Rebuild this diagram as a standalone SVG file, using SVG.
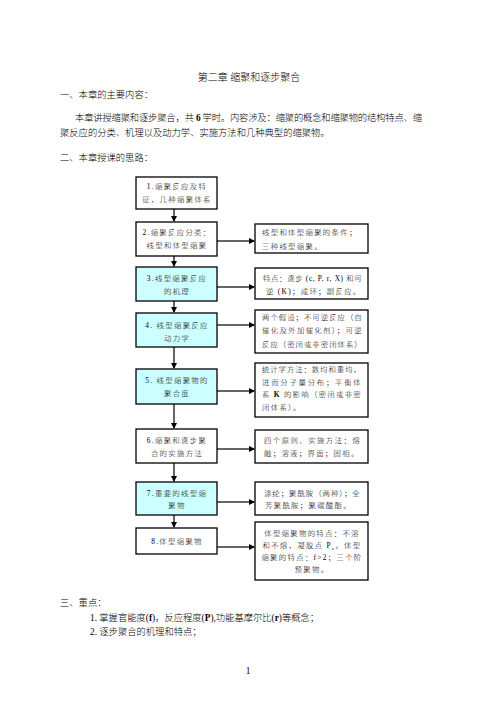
<svg xmlns="http://www.w3.org/2000/svg" width="496" height="702" viewBox="0 0 496 702">
<defs>
<style>
text{font-family:"Liberation Serif","Noto Sans CJK SC",serif;fill:#000;font-weight:300}
.t{font-size:10px}
.b{font-size:9.3px}
.n{font-size:7.4px;letter-spacing:1.3px}
.c{text-anchor:middle}
.box{fill:#fff;stroke:#000;stroke-width:1.3}
.cy{fill:#ccffff;stroke:#000;stroke-width:1.3}
.ln{stroke:#333;stroke-width:1.5;fill:none}
</style>
<marker id="ah" markerWidth="6" markerHeight="6" refX="5" refY="3" orient="auto" markerUnits="userSpaceOnUse">
<path d="M0,0 L6,3 L0,6 Z" fill="#000"/>
</marker>
</defs>
<rect width="496" height="702" fill="#fff"/>

<text class="t c" x="249" y="81">第二章  缩聚和逐步聚合</text>
<text class="b" x="60" y="98">一、本章的主要内容：</text>
<text class="b" x="75" y="121" textLength="347" lengthAdjust="spacing">本章讲授缩聚和逐步聚合，共 <tspan font-weight="bold">6</tspan> 学时。内容涉及：缩聚的概念和缩聚物的结构特点、缩</text>
<text class="b" x="60" y="136">聚反应的分类、机理以及动力学、实施方法和几种典型的缩聚物。</text>
<text class="b" x="60" y="161">二、本章授课的思路：</text>

<g id="connectors">
<line class="ln" x1="174" y1="209" x2="174" y2="221" marker-end="url(#ah)"/>
<line class="ln" x1="174" y1="256" x2="174" y2="266" marker-end="url(#ah)"/>
<line class="ln" x1="174" y1="301" x2="174" y2="312" marker-end="url(#ah)"/>
<line class="ln" x1="174" y1="347" x2="174" y2="368" marker-end="url(#ah)"/>
<line class="ln" x1="174" y1="404" x2="174" y2="428" marker-end="url(#ah)"/>
<line class="ln" x1="174" y1="463" x2="174" y2="481" marker-end="url(#ah)"/>
<line class="ln" x1="174" y1="515" x2="174" y2="527" marker-end="url(#ah)"/>
<line class="ln" x1="217" y1="241" x2="254" y2="241" marker-end="url(#ah)"/>
<line class="ln" x1="217" y1="287" x2="254" y2="287" marker-end="url(#ah)"/>
<line class="ln" x1="217" y1="325" x2="254" y2="325" marker-end="url(#ah)"/>
<line class="ln" x1="217" y1="391" x2="254" y2="391" marker-end="url(#ah)"/>
<line class="ln" x1="217" y1="449" x2="254" y2="449" marker-end="url(#ah)"/>
<line class="ln" x1="217" y1="502" x2="254" y2="502" marker-end="url(#ah)"/>
<line class="ln" x1="217" y1="547" x2="254" y2="547" marker-end="url(#ah)"/>
</g>

<g id="n1">
<rect class="box" x="136" y="177" width="81" height="32"/>
<text class="n c" x="177" y="189">1.缩聚反应及特</text>
<text class="n c" x="177" y="202">征，几种缩聚体系</text>
</g>
<g id="n2">
<rect class="box" x="136" y="222" width="81" height="34"/>
<text class="n c" x="177" y="235">2.缩聚反应分类：</text>
<text class="n c" x="177" y="248">线型和体型缩聚</text>
</g>
<g id="n3">
<rect class="cy" x="136" y="267" width="81" height="34"/>
<text class="n c" x="177" y="281">3.线型缩聚反应</text>
<text class="n c" x="177" y="294">的机理</text>
</g>
<g id="n4">
<rect class="cy" x="136" y="313" width="81" height="34"/>
<text class="n c" x="177" y="328">4.  线型缩聚反应</text>
<text class="n c" x="177" y="341">动力学</text>
</g>
<g id="n5">
<rect class="cy" x="136" y="369" width="81" height="35"/>
<text class="n c" x="177" y="383">5.  线型缩聚物的</text>
<text class="n c" x="177" y="396">聚合度</text>
</g>
<g id="n6">
<rect class="box" x="136" y="429" width="81" height="34"/>
<text class="n c" x="177" y="443">6.缩聚和逐步聚</text>
<text class="n c" x="177" y="456">合的实施方法</text>
</g>
<g id="n7">
<rect class="cy" x="136" y="482" width="81" height="33"/>
<text class="n c" x="177" y="496">7.重要的线型缩</text>
<text class="n c" x="177" y="508">聚物</text>
</g>
<g id="n8">
<rect class="box" x="136" y="528" width="81" height="26"/>
<text class="n c" x="177" y="544">8.体型缩聚物</text>
</g>

<g id="r2">
<rect class="box" x="255" y="224" width="113" height="29"/>
<text class="n" x="262" y="235">线型和体型缩聚的条件；</text>
<text class="n" x="262" y="249">三种线型缩聚。</text>
</g>
<g id="r3">
<rect class="box" x="255" y="268" width="113" height="31"/>
<text class="n" x="263" y="281" textLength="100" lengthAdjust="spacing">特点：逐步 (c, P, r, X) 和可</text>
<text class="n" x="266" y="294">逆 (K)；成环；副反应。</text>
</g>
<g id="r4">
<rect class="box" x="255" y="310" width="113" height="43"/>
<text class="n" x="262" y="320" textLength="101" lengthAdjust="spacing">两个假设；不可逆反应（自</text>
<text class="n" x="262" y="333" textLength="101" lengthAdjust="spacing">催化及外加催化剂）；可逆</text>
<text class="n" x="262" y="347" textLength="101" lengthAdjust="spacing">反应（密闭或非密闭体系）</text>
</g>
<g id="r5">
<rect class="box" x="255" y="363" width="113" height="54"/>
<text class="n" x="262" y="372" textLength="100" lengthAdjust="spacing">统计学方法：数均和重均，</text>
<text class="n" x="262" y="385" textLength="100" lengthAdjust="spacing">进而分子量分布；平衡体</text>
<text class="n" x="262" y="397" textLength="100" lengthAdjust="spacing">系 <tspan font-weight="bold">K</tspan> 的影响（密闭或非密</text>
<text class="n" x="262" y="410">闭体系）。</text>
</g>
<g id="r6">
<rect class="box" x="255" y="430" width="113" height="33"/>
<text class="n" x="264" y="443" textLength="97" lengthAdjust="spacing">四个原则、实施方法：熔</text>
<text class="n" x="264" y="456">融；溶液；界面；固相。</text>
</g>
<g id="r7">
<rect class="box" x="255" y="482" width="113" height="33"/>
<text class="n" x="264" y="496" textLength="97" lengthAdjust="spacing">涤纶；聚酰胺（两种）；全</text>
<text class="n" x="265" y="508">芳聚酰胺；聚碳酸酯。</text>
</g>
<g id="r8">
<rect class="box" x="255" y="522" width="113" height="58"/>
<text class="n c" x="312" y="536">体型缩聚物的特点：不溶</text>
<text class="n c" x="312" y="548">和不熔，凝胶点 P<tspan font-size="5" dy="1.5">c</tspan><tspan dy="-1.5">。体型</tspan></text>
<text class="n c" x="312" y="560">缩聚的特点：f&gt;2；三个阶</text>
<text class="n c" x="312" y="572">预聚物。</text>
</g>

<text class="b" x="60" y="606">三、重点：</text>
<text class="b" x="90" y="621">1. 掌握官能度(<tspan font-weight="bold">f</tspan>)，反应程度(<tspan font-weight="bold">P</tspan>),功能基摩尔比(<tspan font-weight="bold">r</tspan>)等概念；</text>
<text class="b" x="90" y="635">2. 逐步聚合的机理和特点；</text>
<text class="b c" x="248" y="674">1</text>
</svg>
